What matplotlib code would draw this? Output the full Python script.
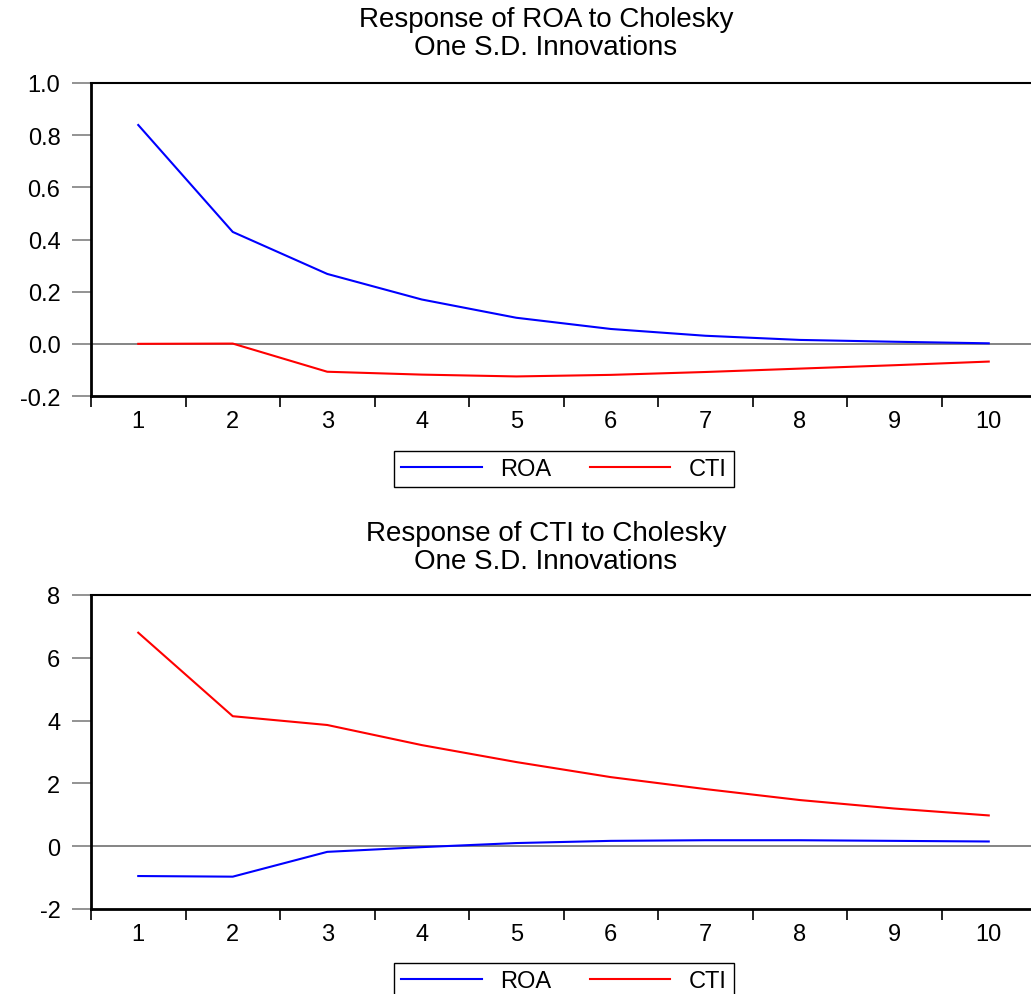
""" Impulse responses, Cholesky one S.D. innovations
"""
import numpy as np
import matplotlib
matplotlib.use('Agg')
import matplotlib.pyplot as plt
from matplotlib.ticker import FixedLocator, FormatStrFormatter

plt.rcParams['font.family'] = ['Liberation Sans', 'DejaVu Sans']
plt.rcParams['axes.unicode_minus'] = False

periods = np.arange(1, 11)

# response of ROA
roa_to_roa = [0.839, 0.429, 0.268, 0.170, 0.100, 0.057, 0.031, 0.015, 0.008, 0.002]
roa_to_cti = [0.000, 0.001, -0.107, -0.118, -0.125, -0.119, -0.108, -0.095, -0.082, -0.068]

# response of CTI
cti_to_roa = [-0.95, -0.97, -0.18, -0.03, 0.10, 0.17, 0.19, 0.19, 0.17, 0.15]
cti_to_cti = [6.80, 4.14, 3.86, 3.22, 2.68, 2.20, 1.82, 1.47, 1.20, 0.98]

W, H = 1031, 995
fig = plt.figure(figsize=(W / 100, H / 100), dpi=100)


def make_panel(rect, y1, y2, yticks, fmt, title, title_y, legend_y):
    ax = fig.add_axes(rect)
    ax.plot(periods, y1, color='#0000ff', lw=1.5, label='ROA')
    ax.plot(periods, y2, color='#ff0000', lw=1.5, label='CTI')
    ax.axhline(0, color='#707070', lw=1.2, zorder=1)
    ax.set_xlim(0.5, 10.5)
    ax.set_ylim(yticks[0], yticks[-1])
    ax.set_yticks(yticks)
    ax.yaxis.set_major_formatter(FormatStrFormatter(fmt))
    ax.set_xticks(periods)
    ax.xaxis.set_minor_locator(FixedLocator(np.arange(0.5, 11, 1.0)))
    ax.tick_params(axis='x', which='major', length=0, pad=10, labelsize=17)
    ax.tick_params(axis='x', which='minor', length=8, width=1.2,
                   color='black', direction='out')
    ax.tick_params(axis='y', length=14, width=1.2, color='#808080',
                   direction='out', pad=8, labelsize=17)
    ax.spines['right'].set_visible(False)
    for s in ('left', 'bottom'):
        ax.spines[s].set_linewidth(2)
    ax.spines['top'].set_linewidth(1.5)
    fig.text(546 / W, 1 - title_y / H, title, ha='center', va='top',
             multialignment='center', fontsize=20, linespacing=1.12)
    fig.legend(*ax.get_legend_handles_labels(), loc='center',
               bbox_to_anchor=(564 / W, 1 - legend_y / H), ncol=2,
               fontsize=17, fancybox=False, edgecolor='black',
               framealpha=1, handlelength=3.4, columnspacing=1.6,
               borderpad=0.3)
    return ax


make_panel([91 / W, 1 - 397 / H, 945 / W, 313 / H], roa_to_roa, roa_to_cti,
           np.arange(-0.2, 1.01, 0.2), '%.1f',
           'Response of ROA to Cholesky\nOne S.D. Innovations', 7, 470)
make_panel([91 / W, 1 - 910 / H, 945 / W, 314 / H], cti_to_roa, cti_to_cti,
           np.arange(-2, 9, 2), '%d',
           'Response of CTI to Cholesky\nOne S.D. Innovations', 521, 982)

fig.savefig('out.png', dpi=100)
